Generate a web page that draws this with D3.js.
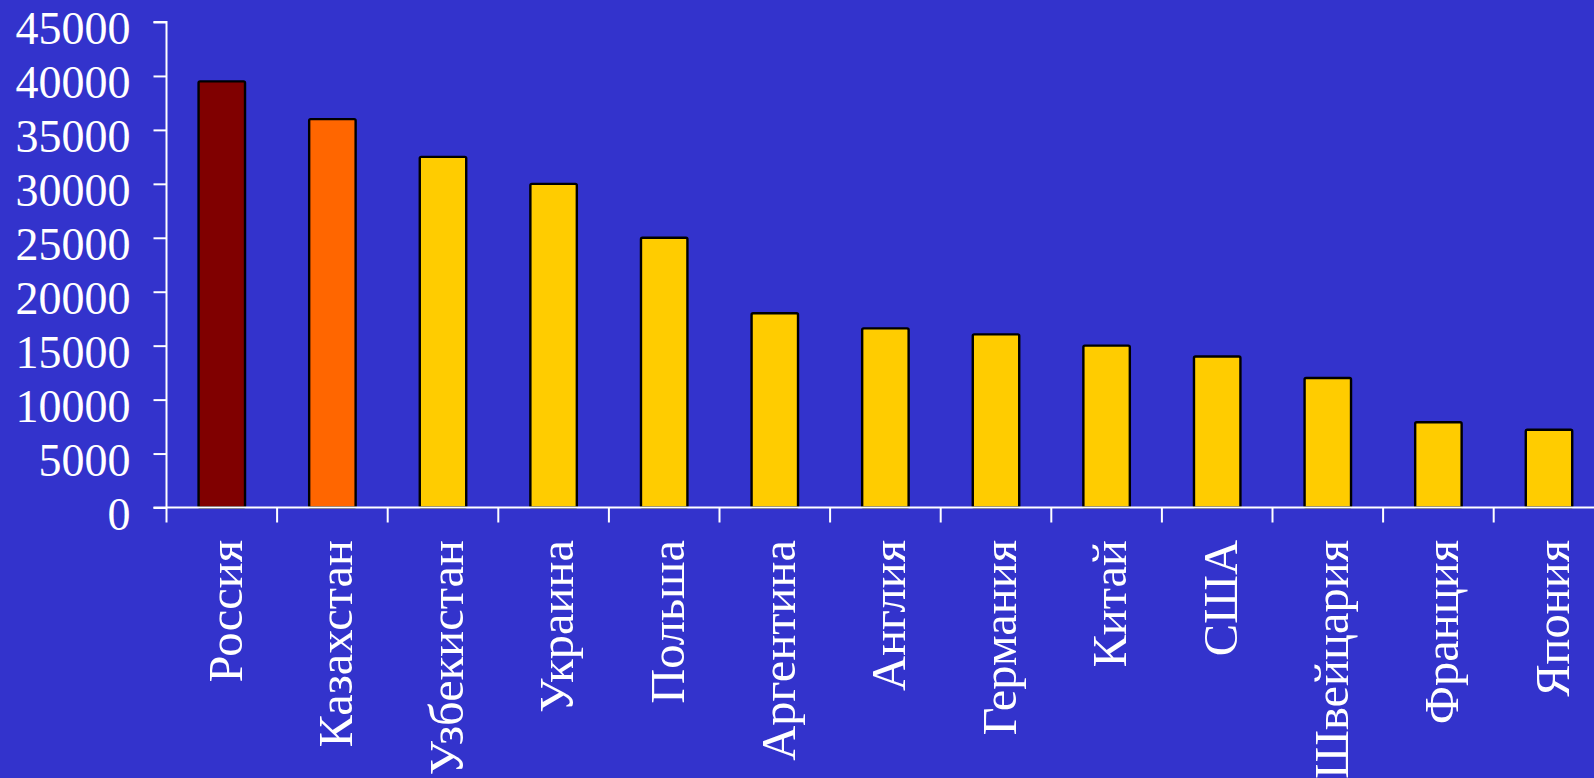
<!DOCTYPE html>
<html>
<head>
<meta charset="utf-8">
<script src="https://cdn.jsdelivr.net/npm/d3@7"></script>
<style>
    html, body { margin: 0; padding: 0; background: #3333cc; overflow: hidden; }
    svg { display: block; }
    text { font-family: "Liberation Serif", "Times New Roman", serif; fill: #ffffff; }
</style>
</head>
<body>
<div id="vis"></div>
<script>
// data
var countries = ['Россия', 'Казахстан', 'Узбекистан', 'Украина', 'Польша', 'Аргентина',
    'Англия', 'Германия', 'Китай', 'США', 'Швейцария', 'Франция', 'Япония'];
var values = [39500, 36000, 32500, 30000, 25000, 18000, 16600, 16050, 15000, 14000, 12000, 7900, 7200];
var barColors = ['#800000', '#ff6600', '#ffcc00', '#ffcc00', '#ffcc00', '#ffcc00',
    '#ffcc00', '#ffcc00', '#ffcc00', '#ffcc00', '#ffcc00', '#ffcc00', '#ffcc00'];
var yTicks = [0, 5000, 10000, 15000, 20000, 25000, 30000, 35000, 40000, 45000];

var width = 1594;
var height = 778;
var origin = { x: 166.5, y: 507.5 };
var step = 110.6;
var tickFontSize = 46;
var labelFontSize = 48.5;

var svg = d3.select('#vis')
    .append('svg')
        .attr('width', width)
        .attr('height', height);

var x = d3.scaleBand()
    .domain(countries)
    .range([origin.x, origin.x + step * countries.length])
    .paddingInner(0.58)
    .paddingOuter(0.29);

var y = d3.scaleLinear()
    .domain([0, 45000])
    .range([origin.y, 22]);

// bars
svg.selectAll('.bar')
    .data(values)
    .enter()
    .append('rect')
        .attr('class', 'bar')
        .attr('x', function(d, i) { return x(countries[i]); })
        .attr('y', function(d) { return y(d); })
        .attr('width', x.bandwidth())
        .attr('height', function(d) { return y(0) - y(d); })
        .attr('rx', 1.5)
        .attr('fill', function(d, i) { return barColors[i]; })
        .attr('stroke', '#000000')
        .attr('stroke-width', 2.4);

// y axis
var yAxis = svg.append('g')
    .attr('transform', 'translate(' + origin.x + ',0)')
    .call(d3.axisLeft(y)
        .tickValues(yTicks)
        .tickFormat(d3.format('d'))
        .tickSize(13)
        .tickPadding(23));

yAxis.select('.domain')
    .attr('d', 'M-13,' + y(45000) + 'H0V' + origin.y)
    .attr('stroke', '#ffffff')
    .attr('stroke-width', 2)
    .attr('fill', 'none');
yAxis.selectAll('.tick line')
    .attr('stroke', '#ffffff')
    .attr('stroke-width', 2);
yAxis.selectAll('.tick text')
    .attr('dy', '0.47em')
    .style('font-size', tickFontSize + 'px')
    .style('font-family', '"Liberation Serif", serif')
    .attr('fill', '#ffffff');

// x axis line and category separators
svg.append('line')
    .attr('x1', origin.x - 13)
    .attr('x2', width)
    .attr('y1', origin.y)
    .attr('y2', origin.y)
    .attr('stroke', '#ffffff')
    .attr('stroke-width', 2);

var bounds = countries.map(function(c) { return x(c) + x.bandwidth() / 2 - x.step() / 2; });
svg.selectAll('.sep')
    .data(bounds)
    .enter()
    .append('line')
        .attr('class', 'sep')
        .attr('x1', function(d) { return d; })
        .attr('x2', function(d) { return d; })
        .attr('y1', origin.y)
        .attr('y2', origin.y + 15)
        .attr('stroke', '#ffffff')
        .attr('stroke-width', 2);

// rotated category labels
svg.selectAll('.label')
    .data(countries)
    .enter()
    .append('text')
        .attr('class', 'label')
        .attr('transform', function(d) {
            return 'translate(' + (x(d) + x.bandwidth() / 2) + ',' + 540 + ') rotate(-90)';
        })
        .attr('text-anchor', 'end')
        .attr('dy', '0.41em')
        .style('font-size', labelFontSize + 'px')
        .text(function(d) { return d; });
</script>
</body>
</html>
